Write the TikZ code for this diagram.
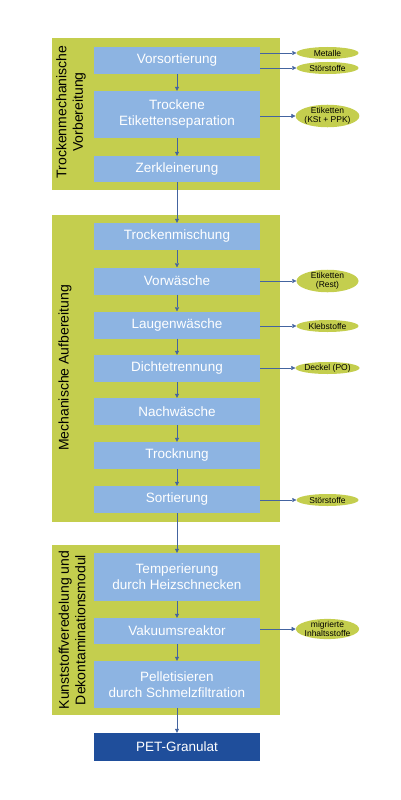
\documentclass[tikz,border=0pt]{standalone}
\usepackage{fontspec}
\setmainfont{Liberation Sans}
\usetikzlibrary{shapes.geometric,arrows.meta}
\definecolor{groupgreen}{RGB}{196,206,78}
\definecolor{procblue}{RGB}{141,180,226}
\definecolor{petblue}{RGB}{31,78,155}
\definecolor{flowblue}{RGB}{68,100,160}
\begin{document}
\begin{tikzpicture}
   [x=1pt,y=-1pt,
    proc/.style={rectangle,fill=procblue,text=white,minimum width=166pt,inner sep=0pt,align=center,font=\fontsize{13.5}{16}\selectfont},
    waste/.style={ellipse,fill=groupgreen,minimum width=62pt,minimum height=12pt,inner sep=-0.5pt,align=center,font=\fontsize{8.5}{9}\selectfont},
    grouplabel/.style={rotate=90,align=center,font=\fontsize{14}{16.5}\selectfont},
    flow/.style={-{Triangle[length=4pt,width=4pt]},thin,draw=flowblue}]

  \useasboundingbox (0,0) rectangle (400,800);

  \fill[groupgreen] (52,38) rectangle (280,190);
  \fill[groupgreen] (52,215) rectangle (280,522);
  \fill[groupgreen] (52,545) rectangle (280,715);

  \node[grouplabel] (g1) at (71,112) {Trockenmechanische\\Vorbereitung};
  \node[grouplabel] (g2) at (65,368) {Mechanische Aufbereitung};
  \node[grouplabel] (g3) at (72,630) {Kunststoffveredelung und\\Dekontaminationsmodul};

  \node[proc,minimum height=27pt] (v1) at (177,60.5)  {Vorsortierung};
  \node[proc,minimum height=47pt] (v2) at (177,114.5) {Trockene\\Etikettenseparation};
  \node[proc,minimum height=26pt] (v3) at (177,169)   {Zerkleinerung};

  \node[proc,minimum height=27pt] (m1) at (177,236.5) {Trockenmischung};
  \node[proc,minimum height=27pt] (m2) at (177,281)   {Vorwäsche};
  \node[proc,minimum height=27pt] (m3) at (177,325)   {Laugenwäsche};
  \node[proc,minimum height=27pt] (m4) at (177,368.5) {Dichtetrennung};
  \node[proc,minimum height=27pt] (m5) at (177,411.5) {Nachwäsche};
  \node[proc,minimum height=27pt] (m6) at (177,455.5) {Trocknung};
  \node[proc,minimum height=27pt] (m7) at (177,499.5) {Sortierung};

  \node[proc,minimum height=48pt] (k1) at (177,577)   {Temperierung\\durch Heizschnecken};
  \node[proc,minimum height=26pt] (k2) at (177,631)   {Vakuumsreaktor};
  \node[proc,minimum height=47pt] (k3) at (177,684.5) {Pelletisieren\\durch Schmelzfiltration};

  \node[proc,minimum height=28pt,fill=petblue] (pet) at (177,747) {PET-Granulat};

  \node[waste] (o1) at (327.5,53)  {Metalle};
  \node[waste] (o2) at (327.5,68)  {Störstoffe};
  \node[waste] (o3) at (327.5,116) {Etiketten\\(KSt + PPK)};
  \node[waste] (o4) at (327.5,281) {Etiketten\\(Rest)};
  \node[waste] (o5) at (327.5,326) {Klebstoffe};
  \node[waste] (o6) at (327.5,368) {Deckel (PO)};
  \node[waste] (o7) at (327.5,500) {Störstoffe};
  \node[waste] (o8) at (327.5,629) {migrierte\\Inhaltsstoffe};

  \foreach \from/\to in {v1/v2,v2/v3,v3/m1,m1/m2,m2/m3,m3/m4,m4/m5,m5/m6,m6/m7,m7/k1,k1/k2,k2/k3,k3/pet}
    \draw[flow] (\from) -- (\to);

  \foreach \from/\to in {v1/o1,v1/o2,v2/o3,m2/o4,m3/o5,m4/o6,m7/o7,k2/o8}
    \draw[flow] (\from.east |- \to) -- (\to);

\end{tikzpicture}
\end{document}
